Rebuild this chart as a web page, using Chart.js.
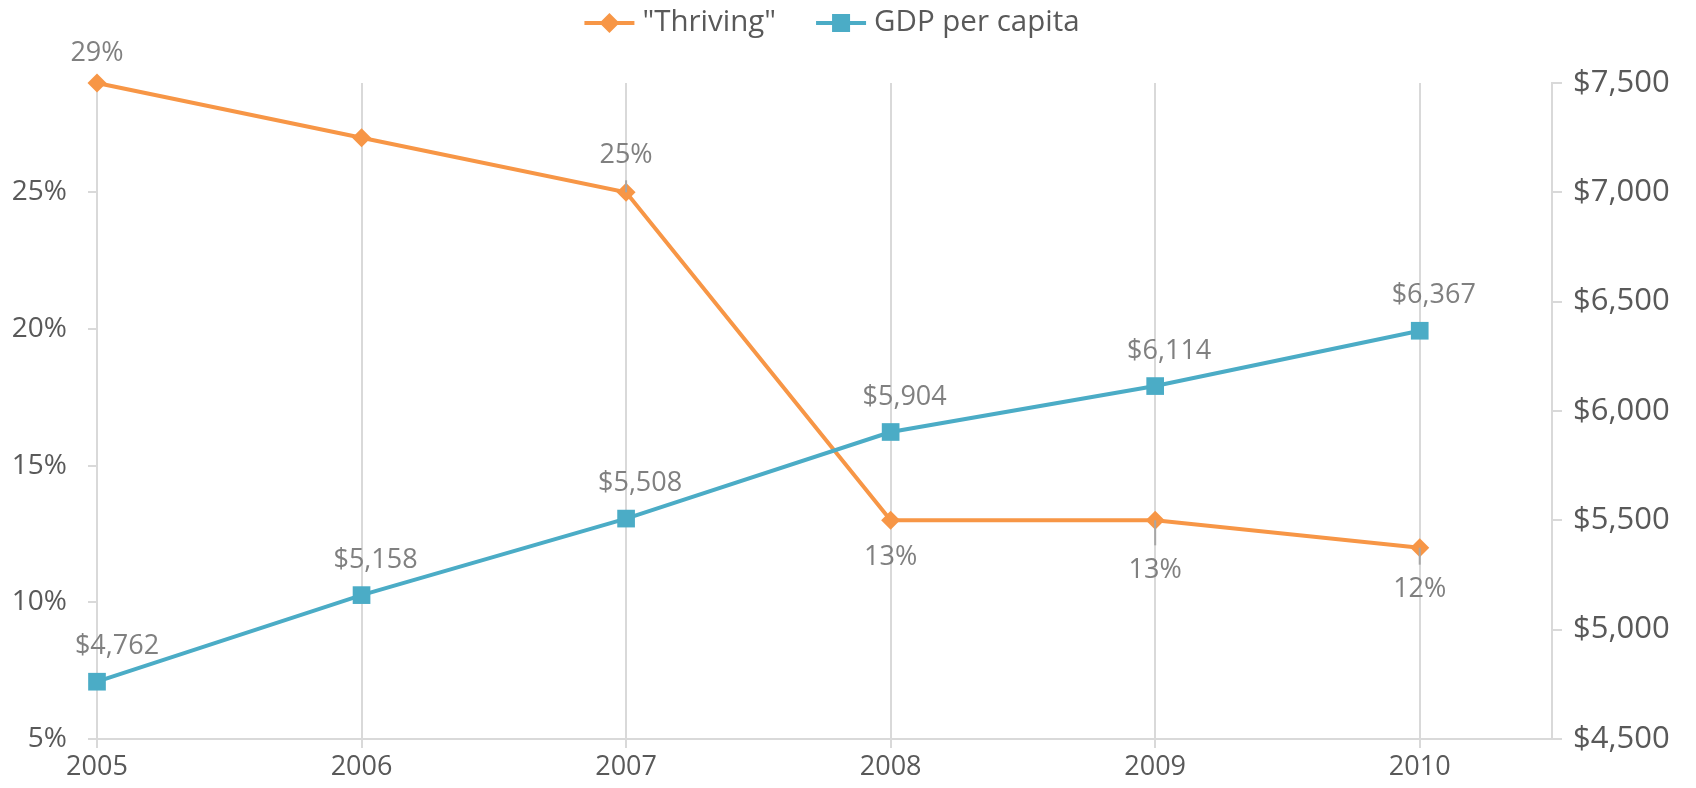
<!DOCTYPE html>
<html>
<head>
<meta charset="utf-8">
<script src="https://cdn.jsdelivr.net/npm/chart.js@4"></script>
<style>
  body { margin: 0; background: #fff; overflow: hidden; }
  #wrap { width: 1696px; height: 788px; }
  canvas { display: block; }
</style>
</head>
<body>
<div id="wrap"><canvas id="chart" width="1696" height="788"></canvas></div>
<script>
// data
const years = [2005, 2006, 2007, 2008, 2009, 2010];
const thriving = [29, 27, 25, 13, 13, 12];          // percent
const gdpPerCapita = [4762, 5158, 5508, 5904, 6114, 6367];
const pctTicks = [5, 10, 15, 20, 25];
const gdpTicks = [4500, 5000, 5500, 6000, 6500, 7000, 7500];
const seriesNames = ['"Thriving"', 'GDP per capita'];

// where each "Thriving" label sits: 'up', 'down', or null (no label)
const thrivingLabelSide = ['up', null, 'up', 'down', 'down', 'down'];
const thrivingLeader = [false, false, true, false, true, true];

const ORANGE = '#F79646';
const TEAL = '#4BACC6';
const GRID = '#D9D9D9';
const AXIS_TEXT = '#595959';
const LABEL_TEXT = '#808080';
const FONT = '"Open Sans", "Noto Sans", sans-serif';

function fmtMoney(v) {
    return '$' + Number(v).toLocaleString('en-US');
}

// data labels + leader lines
const labelPlugin = {
    id: 'pointLabels',
    afterDatasetsDraw(chart) {
        const ctx = chart.ctx;
        ctx.save();
        ctx.font = '27px ' + FONT;
        ctx.fillStyle = LABEL_TEXT;
        ctx.textAlign = 'center';
        ctx.textBaseline = 'middle';

        const tMeta = chart.getDatasetMeta(0);
        tMeta.data.forEach(function (pt, i) {
            const side = thrivingLabelSide[i];
            if (!side) return;
            let dy;
            if (side === 'up') dy = thrivingLeader[i] ? -37 : -30;
            else dy = thrivingLeader[i] ? (i === 4 ? 50 : 42) : 37;
            const ly = pt.y + dy;
            if (thrivingLeader[i]) {
                ctx.strokeStyle = '#A6A6A6';
                ctx.lineWidth = 2;
                ctx.beginPath();
                ctx.moveTo(pt.x, pt.y);
                ctx.lineTo(pt.x, side === 'up' ? ly + 25 : ly - 25);
                ctx.stroke();
            }
            ctx.fillText(thriving[i] + '%', pt.x, ly);
        });

        const gMeta = chart.getDatasetMeta(1);
        gMeta.data.forEach(function (pt, i) {
            const dx = i === 0 ? 20 : 14;
            ctx.fillText(fmtMoney(gdpPerCapita[i]), pt.x + dx, pt.y - 35);
        });
        ctx.restore();
    }
};

// excel style legend: line with marker through it
const legendPlugin = {
    id: 'lineLegend',
    afterDraw(chart) {
        const ctx = chart.ctx;
        ctx.save();
        ctx.font = '29.5px ' + FONT;
        ctx.textBaseline = 'middle';
        ctx.textAlign = 'left';
        const lineLen = 50, gapTxt = 8, gapItem = 40;
        const w0 = ctx.measureText(seriesNames[0]).width;
        const w1 = ctx.measureText(seriesNames[1]).width;
        const total = lineLen + gapTxt + w0 + gapItem + lineLen + gapTxt + w1;
        let x = 832 - total / 2;
        const y = 23;

        // "Thriving"
        ctx.strokeStyle = ORANGE;
        ctx.lineWidth = 4;
        ctx.beginPath(); ctx.moveTo(x, y); ctx.lineTo(x + lineLen, y); ctx.stroke();
        ctx.fillStyle = ORANGE;
        const cx0 = x + lineLen / 2;
        ctx.beginPath();
        ctx.moveTo(cx0, y - 10); ctx.lineTo(cx0 + 10, y); ctx.lineTo(cx0, y + 10); ctx.lineTo(cx0 - 10, y);
        ctx.closePath(); ctx.fill();
        x += lineLen + gapTxt;
        ctx.fillStyle = AXIS_TEXT;
        ctx.fillText(seriesNames[0], x, y);
        x += w0 + gapItem;

        // GDP
        ctx.strokeStyle = TEAL;
        ctx.beginPath(); ctx.moveTo(x, y); ctx.lineTo(x + lineLen, y); ctx.stroke();
        ctx.fillStyle = TEAL;
        ctx.fillRect(x + lineLen / 2 - 9, y - 9, 18, 18);
        x += lineLen + gapTxt;
        ctx.fillStyle = AXIS_TEXT;
        ctx.fillText(seriesNames[1], x, y);
        ctx.restore();
    }
};

const ctx = document.getElementById('chart').getContext('2d');
new Chart(ctx, {
    type: 'line',
    data: {
        datasets: [
            {
                label: seriesNames[0],
                data: years.map((y, i) => ({ x: y, y: thriving[i] })),
                yAxisID: 'y',
                borderColor: ORANGE,
                backgroundColor: ORANGE,
                borderWidth: 4,
                pointStyle: 'rectRot',
                pointRadius: 9.5,
                pointBorderWidth: 0,
                tension: 0,
                clip: false,
                order: 1
            },
            {
                label: seriesNames[1],
                data: years.map((y, i) => ({ x: y, y: gdpPerCapita[i] })),
                yAxisID: 'y1',
                borderColor: TEAL,
                backgroundColor: TEAL,
                borderWidth: 4,
                pointStyle: 'rect',
                pointRadius: 12.5,
                pointBorderWidth: 0,
                tension: 0,
                clip: false,
                order: 0
            }
        ]
    },
    options: {
        responsive: false,
        animation: false,
        layout: { padding: { top: 83, left: 0, right: 0, bottom: 0 } },
        plugins: {
            legend: { display: false },
            tooltip: { enabled: false }
        },
        scales: {
            x: {
                type: 'linear',
                min: 2005,
                max: 2010.5,
                afterBuildTicks: s => { s.ticks = years.map(v => ({ value: v })); },
                afterFit: s => { s.height = 49; },
                grid: { color: GRID, lineWidth: 2, tickLength: 9 },
                border: { display: true, color: GRID, width: 2 },
                ticks: {
                    color: AXIS_TEXT,
                    font: { family: FONT, size: 27 },
                    padding: 3,
                    maxRotation: 0,
                    callback: v => String(v)
                }
            },
            y: {
                position: 'left',
                min: 5,
                max: 29,
                afterBuildTicks: s => { s.ticks = pctTicks.map(v => ({ value: v })); },
                afterFit: s => { s.width = 97; },
                grid: { drawOnChartArea: false, color: GRID, lineWidth: 2, tickLength: 9 },
                border: { display: true, color: GRID, width: 2 },
                ticks: {
                    color: AXIS_TEXT,
                    font: { family: FONT, size: 28 },
                    padding: 21,
                    callback: v => v + '%'
                }
            },
            y1: {
                position: 'right',
                min: 4500,
                max: 7500,
                afterBuildTicks: s => { s.ticks = gdpTicks.map(v => ({ value: v })); },
                afterFit: s => { s.width = 144; },
                grid: { drawOnChartArea: false, color: GRID, lineWidth: 2, tickLength: 10 },
                border: { display: true, color: GRID, width: 2 },
                ticks: {
                    color: AXIS_TEXT,
                    font: { family: FONT, size: 31 },
                    padding: 11,
                    callback: v => fmtMoney(v)
                }
            }
        }
    },
    plugins: [labelPlugin, legendPlugin]
});
</script>
</body>
</html>
